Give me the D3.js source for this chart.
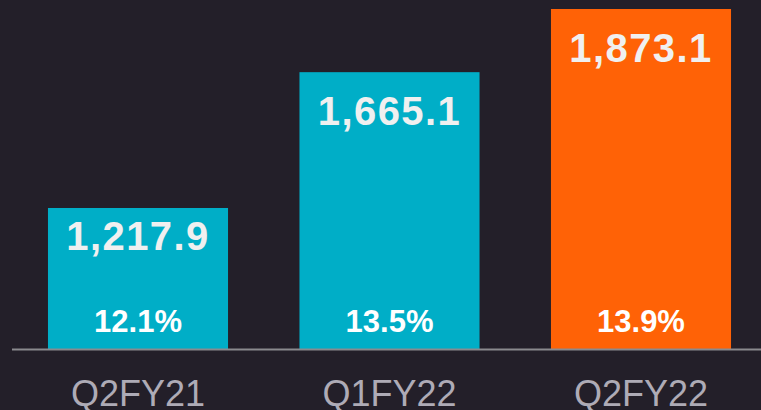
<html>
<head>
	<meta charset="utf-8">
	<style>
		body { margin: 0; background: #231f29; }
		svg { display: block; }
	</style>
	<script src="https://cdnjs.cloudflare.com/ajax/libs/d3/7.8.5/d3.min.js"></script>
</head>
<body>
	<svg id="chart" width="761" height="410"></svg>
<script>
let width = 761;
let height = 410;

let categories = ["Q2FY21", "Q1FY22", "Q2FY22"];
let values = [1217.9, 1665.1, 1873.1];
let margins = ["12.1%", "13.5%", "13.9%"];
let colors = ["#00aec7", "#00aec7", "#ff6206"];

let baseY = 349;

// value axis does not start at zero in the original
let x = d3.scaleBand().domain(categories).range([12, 767])
	.paddingInner(0.284).paddingOuter(0.143);
let y = d3.scaleLinear().domain([753.6, 1873.1]).range([baseY, 9]);

let svg = d3.select("#chart");

svg.append("rect").attr("width", width).attr("height", height).attr("fill", "#231f29");

let bars = svg.selectAll(".bar")
	.data(categories)
	.join("g")
	.attr("class", "bar");

bars.append("rect")
	.attr("x", d => x(d))
	.attr("y", (d, i) => y(values[i]))
	.attr("width", x.bandwidth())
	.attr("height", (d, i) => baseY - y(values[i]))
	.attr("fill", (d, i) => colors[i]);

bars.append("text")
	.attr("x", d => x(d) + x.bandwidth() / 2)
	.attr("y", (d, i) => {
		let h = baseY - y(values[i]);
		return y(values[i]) + Math.min(52.5, h * 0.3);
	})
	.attr("text-anchor", "middle")
	.attr("font-family", "Liberation Sans, Arial, sans-serif")
	.attr("font-weight", "bold")
	.attr("font-size", 40)
	.attr("letter-spacing", 1.4)
	.attr("fill", "#f0f0f0")
	.text((d, i) => d3.format(",.1f")(values[i]));

bars.append("text")
	.attr("x", d => x(d) + x.bandwidth() / 2)
	.attr("y", baseY - 17)
	.attr("text-anchor", "middle")
	.attr("font-family", "Liberation Sans, Arial, sans-serif")
	.attr("font-weight", "bold")
	.attr("font-size", 31)
	.attr("fill", "#ffffff")
	.text((d, i) => margins[i]);

svg.append("line")
	.attr("x1", 12).attr("x2", width)
	.attr("y1", baseY + 0.5).attr("y2", baseY + 0.5)
	.attr("stroke", "#8a8a8e")
	.attr("stroke-width", 2);

let xAxis = svg.append("g")
	.attr("transform", `translate(0,${baseY})`)
	.call(d3.axisBottom(x).tickSize(0).tickPadding(0));

xAxis.select(".domain").remove();
xAxis.selectAll("text")
	.attr("dy", null)
	.attr("y", 57)
	.attr("font-family", "Liberation Sans, Arial, sans-serif")
	.attr("font-size", 36)
	.attr("fill", "#aeabb6");
</script>
</body>
</html>
